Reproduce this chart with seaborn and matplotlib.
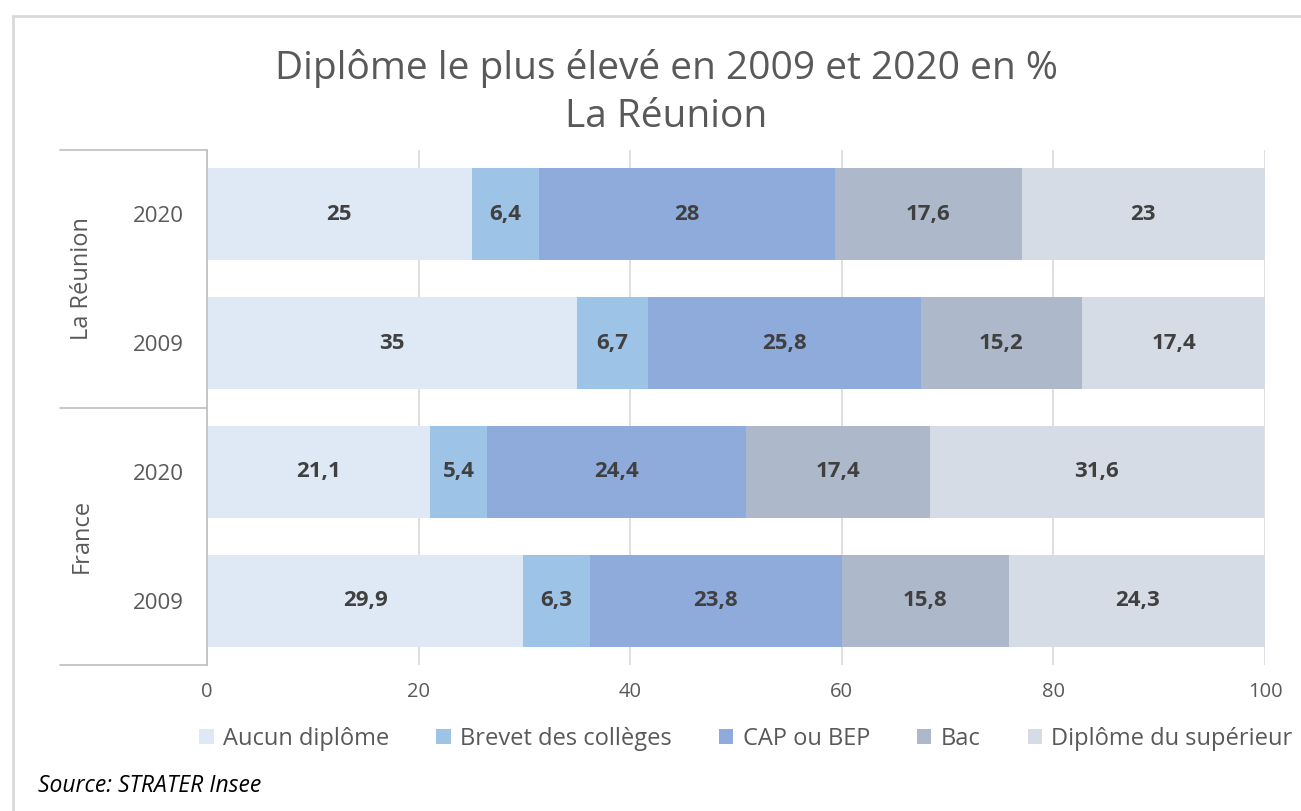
import pandas as pd
import matplotlib.pyplot as plt
import seaborn as sns
from matplotlib.patches import Patch
from matplotlib.lines import Line2D

# Data
rows = ["La Réunion 2020", "La Réunion 2009", "France 2020", "France 2009"]
years = ["2020", "2009", "2020", "2009"]
groups = ["La Réunion", "France"]
categories = ["Aucun diplôme", "Brevet des collèges", "CAP ou BEP", "Bac", "Diplôme du supérieur"]
aucun = [25, 35, 21.1, 29.9]
brevet = [6.4, 6.7, 5.4, 6.3]
cap_bep = [28, 25.8, 24.4, 23.8]
bac = [17.6, 15.2, 17.4, 15.8]
superieur = [23, 17.4, 31.6, 24.3]
colors = ["#DEE9F5", "#9DC3E6", "#8FABDC", "#ADB9CA", "#D6DCE5"]

df = pd.DataFrame({"row": rows, "Aucun diplôme": aucun, "Brevet des collèges": brevet,
                   "CAP ou BEP": cap_bep, "Bac": bac, "Diplôme du supérieur": superieur})
cum = df[categories].cumsum(axis=1)

sns.set_theme(style="white")
plt.rcParams['font.family'] = ['Open Sans', 'DejaVu Sans']

fig = plt.figure(figsize=(13.01, 8.11), dpi=100)
ax = fig.add_axes([207 / 1301, 1 - 665 / 811, (1265 - 207) / 1301, 515 / 811])

# stacked bars: draw cumulative totals from the last category backwards
for cat, col in reversed(list(zip(categories, colors))):
    sns.barplot(data=cum.assign(row=df["row"]), x=cat, y="row", order=rows,
                color=col, width=0.715, saturation=1, ax=ax, linewidth=0)

# value labels centred in each segment
for i in range(len(rows)):
    start = 0
    for cat in categories:
        v = df.loc[i, cat]
        lab = f"{v:g}".replace(".", ",")
        ax.text(start + v / 2, i, lab, ha="center", va="center", fontsize=16,
                fontweight="bold", color="#404040")
        start += v

ax.set_xlim(0, 100)
ax.set_ylim(3.5, -0.5)
ax.set_xticks([0, 20, 40, 60, 80, 100])
ax.tick_params(axis="x", labelsize=14.5, labelcolor="#595959", length=0, pad=12)
ax.set_yticks(range(4))
ax.set_yticklabels(years)
ax.tick_params(axis="y", labelsize=16, labelcolor="#595959", length=0, pad=17)
ax.set_xlabel("")
ax.set_ylabel("")
ax.grid(axis="x", color="#d9d9d9", linewidth=1.2)
ax.set_axisbelow(True)
for s in ["top", "right", "bottom"]:
    ax.spines[s].set_visible(False)
ax.spines["left"].set_color("#bfbfbf")
ax.spines["left"].set_linewidth(1.2)

# group separators and labels on the category axis
x0 = (60 - 207) / (1265 - 207)
for yy in [-0.5, 1.5, 3.5]:
    ax.add_line(Line2D([x0, 0], [yy, yy], transform=ax.get_yaxis_transform(),
                       color="#bfbfbf", linewidth=1.2, clip_on=False))
xg = (82 - 207) / (1265 - 207)
for k, g in enumerate(groups):
    ax.text(xg, 2 * k + 0.5, g, transform=ax.get_yaxis_transform(), rotation=90,
            ha="center", va="center", fontsize=17, color="#595959")

fig.text(0.512, 1 - 68 / 811, "Diplôme le plus élevé en 2009 et 2020 en %", ha="center", va="center",
         fontsize=28, color="#595959")
fig.text(0.512, 1 - 117 / 811, "La Réunion", ha="center", va="center", fontsize=28, color="#595959")

handles = [Patch(facecolor=c, edgecolor="none") for c in colors]
fig.legend(handles, categories, loc="center", bbox_to_anchor=(746 / 1301, 1 - 739 / 811),
           ncol=5, frameon=False, fontsize=17, handlelength=0.6, handleheight=0.6,
           handletextpad=0.4, columnspacing=2.0, labelcolor="#595959")

fig.text(38 / 1301, 1 - 786 / 811, "Source: STRATER Insee", style="italic", fontsize=16.5,
         ha="left", va="center", color="black")

# outer frame (top and left edges)
fig.add_artist(Line2D([13 / 1301, 1], [1 - 16 / 811, 1 - 16 / 811], transform=fig.transFigure,
                      color="#d9d9d9", linewidth=2))
fig.add_artist(Line2D([13 / 1301, 13 / 1301], [0, 1 - 16 / 811], transform=fig.transFigure,
                      color="#d9d9d9", linewidth=2))

plt.savefig("out.png", dpi=100)
plt.close()
